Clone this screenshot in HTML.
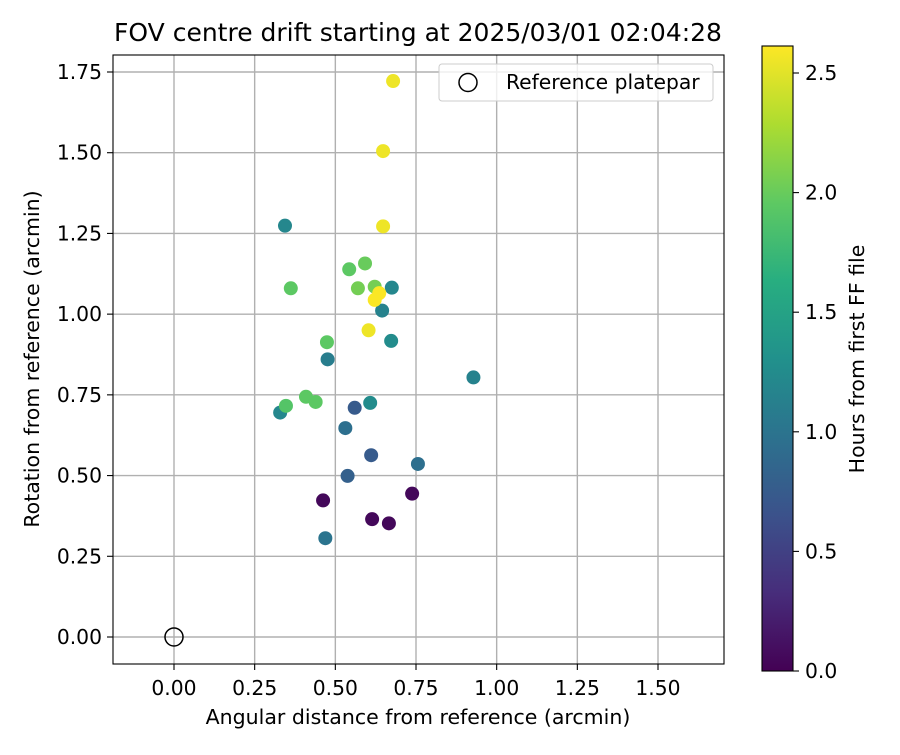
<!DOCTYPE html>
<html><head><meta charset="utf-8"><style>
html,body{margin:0;padding:0;background:#fff;}
svg text{font-family:"DejaVu Sans","Liberation Sans",sans-serif;fill:#000;}
</style></head><body>
<svg id="chart" width="900" height="750" xmlns="http://www.w3.org/2000/svg">
<rect width="900" height="750" fill="#fff"/>
<text x="418" y="41" font-size="25" text-anchor="middle">FOV centre drift starting at 2025/03/01 02:04:28</text>
<g id="grid"></g>
<g id="pts"></g>
<rect x="113" y="55" width="611" height="609" fill="none" stroke="#000" stroke-width="1.1"/>
<g id="ticks"></g>
<text x="418" y="724" font-size="20.5" text-anchor="middle">Angular distance from reference (arcmin)</text>
<text transform="translate(39,359) rotate(-90)" font-size="20.5" text-anchor="middle">Rotation from reference (arcmin)</text>
<g>
<rect x="439" y="64" width="274" height="37" rx="3" fill="#fff" fill-opacity="0.8" stroke="#ccc" stroke-width="1"/>
<circle cx="468" cy="82.5" r="9" fill="none" stroke="#000" stroke-width="1.5"/>
<text x="506" y="89" font-size="20.3">Reference platepar</text>
</g>
<defs><linearGradient id="vir" x1="0" y1="1" x2="0" y2="0">
<stop offset="0" stop-color="#440154"/><stop offset="0.125" stop-color="#472d7b"/><stop offset="0.25" stop-color="#3b528b"/><stop offset="0.375" stop-color="#2c728e"/><stop offset="0.5" stop-color="#21918c"/><stop offset="0.625" stop-color="#28ae80"/><stop offset="0.75" stop-color="#5ec962"/><stop offset="0.875" stop-color="#addc30"/><stop offset="1" stop-color="#fde725"/>
</linearGradient></defs>
<rect x="762" y="46" width="31" height="625" fill="url(#vir)" stroke="#000" stroke-width="1.1"/>
<g id="cbticks"></g>
<text transform="translate(864,359) rotate(-90)" font-size="20.5" text-anchor="middle">Hours from first FF file</text>
</svg>
<script>
const xs=[0.462,0.738,0.614,0.666,0.560,0.611,0.538,0.531,0.756,0.469,0.645,0.476,0.928,0.344,0.675,0.329,0.673,0.608,0.347,0.543,0.362,0.409,0.439,0.474,0.592,0.570,0.622,0.679,0.648,0.648,0.603,0.636,0.622];
const ys=[0.423,0.444,0.365,0.352,0.710,0.563,0.499,0.647,0.536,0.306,1.011,0.860,0.804,1.274,1.082,0.695,0.917,0.725,0.716,1.139,1.080,0.744,0.728,0.913,1.157,1.080,1.085,1.722,1.505,1.272,0.950,1.065,1.044];
const hrs=[0.05,0.05,0.05,0.05,0.75,0.75,0.8,0.95,0.95,1.0,1.15,1.1,1.15,1.2,1.2,1.2,1.25,1.25,1.9,1.95,1.95,1.95,1.95,1.95,2.0,2.05,2.05,2.55,2.55,2.55,2.55,2.6,2.6];
const xTicks=["0.00","0.25","0.50","0.75","1.00","1.25","1.50"];
const yTicks=["0.00","0.25","0.50","0.75","1.00","1.25","1.50","1.75"];
const cTicks=["0.0","0.5","1.0","1.5","2.0","2.5"];
const refPoint=[0,0];
const X=v=>174+v*322.67, Y=v=>637-v*322.86, C=v=>671-v*239.2;
const NS="http://www.w3.org/2000/svg";
function mk(t,a,p){const e=document.createElementNS(NS,t);for(const k in a)e.setAttribute(k,a[k]);p.appendChild(e);return e;}
const vir=[[68,1,84],[71,45,123],[59,82,139],[44,114,142],[33,145,140],[40,174,128],[94,201,98],[173,220,48],[253,231,37]];
function cmap(h){let t=Math.max(0,Math.min(1,h/2.613))*8;let i=Math.min(7,Math.floor(t));let f=t-i;const a=vir[i],b=vir[i+1];return `rgb(${a.map((v,k)=>Math.round(v+(b[k]-v)*f)).join(',')})`;}
const g=document.getElementById('grid'),tk=document.getElementById('ticks'),pts=document.getElementById('pts'),cb=document.getElementById('cbticks');
xTicks.forEach(s=>{const v=parseFloat(s),x=X(v);
const l=mk('line',{x1:x,x2:x,y1:55,y2:664,stroke:'#b0b0b0','stroke-width':1.4},g);

const m=mk('line',{x1:x,x2:x,y1:664,y2:670,stroke:'#000','stroke-width':1.1},tk);

const t=mk('text',{x:x,y:695,'font-size':20.3,'text-anchor':'middle'},tk);t.textContent=s;
});
yTicks.forEach(s=>{const v=parseFloat(s),y=Y(v);
const l=mk('line',{x1:113,x2:724,y1:y,y2:y,stroke:'#b0b0b0','stroke-width':1.4},g);

const m=mk('line',{x1:107,x2:113,y1:y,y2:y,stroke:'#000','stroke-width':1.1},tk);

const t=mk('text',{x:102,y:y+7,'font-size':20.3,'text-anchor':'end'},tk);t.textContent=s;
});
xs.forEach((x,i)=>{
const c=mk('circle',{cx:X(x),cy:Y(ys[i]),r:7,fill:cmap(hrs[i])},pts);
});
const rp=mk('circle',{cx:X(refPoint[0]),cy:Y(refPoint[1]),r:9,fill:'none',stroke:'#000','stroke-width':1.5},pts);

cTicks.forEach(s=>{const y=C(parseFloat(s));
const m=mk('line',{x1:793,x2:799,y1:y,y2:y,stroke:'#000','stroke-width':1.1},cb);

const t=mk('text',{x:805,y:y+7,'font-size':20.3},cb);t.textContent=s;
});
</script>
</body></html>
